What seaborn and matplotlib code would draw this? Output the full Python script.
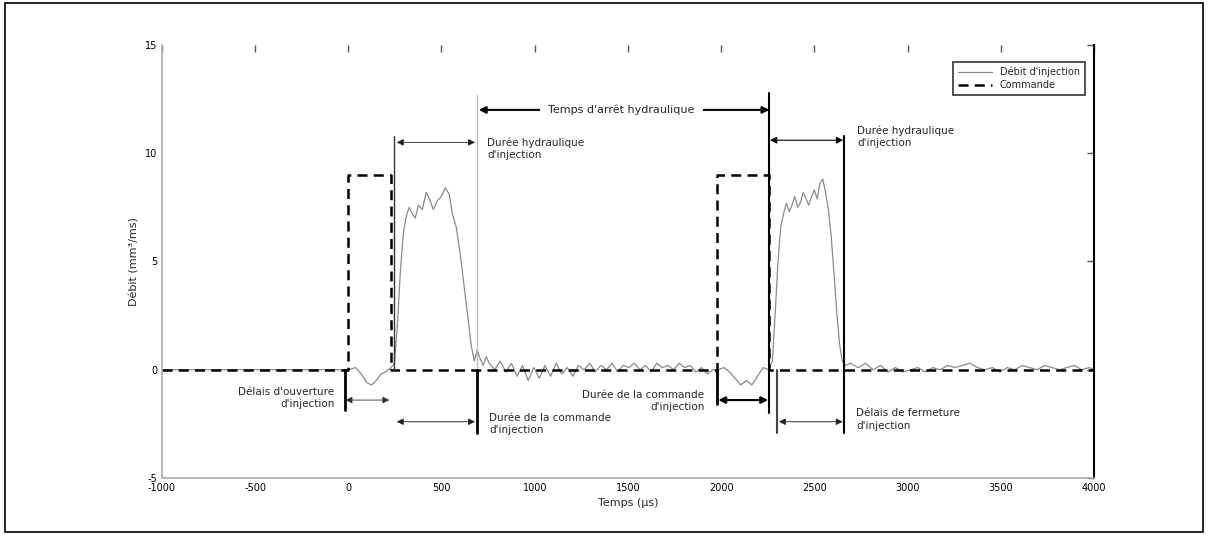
import numpy as np
import pandas as pd
import matplotlib
matplotlib.use('Agg')
import matplotlib.pyplot as plt
from matplotlib.patches import Rectangle
import seaborn as sns

# commande d'injection (dashed)
cmd_t = [-1000, 0, 0, 230, 230, 1980, 1980, 2259, 2259, 4000]
cmd_v = [0, 0, 9, 9, 0, 0, 9, 9, 0, 0]

# debit d'injection, 1st injection
rate_t1 = [-1000, 0, 40, 70, 100, 125, 150, 175, 200, 230, 247, 263, 279, 295, 311, 327, 343, 359, 376, 397,
           418, 435, 456, 477, 499, 520, 542, 558, 579, 601, 622, 644, 660, 676, 692, 708, 724, 740, 756]
rate_v1 = [0, 0, 0.1, -0.2, -0.6, -0.7, -0.5, -0.2, -0.1, 0.1, 0.3, 2.0, 4.5, 6.3, 7.1, 7.5, 7.2, 7.0, 7.6, 7.4,
           8.2, 7.9, 7.4, 7.8, 8.0, 8.4, 8.1, 7.2, 6.6, 5.3, 3.8, 2.2, 1.1, 0.4, 0.9, 0.5, 0.2, 0.6, 0.3]
# between injections
rate_t2 = [785, 815, 845, 875, 905, 935, 965, 995, 1025, 1055, 1085, 1115, 1145, 1175, 1205, 1235, 1265, 1295, 1325, 1355,
           1385, 1415, 1445, 1475, 1505, 1535, 1565, 1595, 1625, 1655, 1685, 1715, 1745, 1775, 1805, 1835, 1865, 1895, 1925, 1955]
rate_v2 = [0.0, 0.4, -0.1, 0.3, -0.3, 0.2, -0.5, 0.1, -0.4, 0.2, -0.3, 0.3, -0.2, 0.1, -0.3, 0.2, 0.0, 0.3, -0.1, 0.2,
           0.0, 0.3, -0.1, 0.2, 0.1, 0.3, 0.0, 0.2, -0.1, 0.3, 0.1, 0.2, 0.0, 0.3, 0.1, 0.2, -0.1, 0.1, -0.2, 0.0]
# 2nd injection
rate_t3 = [1985, 2015, 2045, 2075, 2105, 2135, 2165, 2195, 2225, 2255, 2275, 2290, 2305, 2320, 2335, 2350, 2365, 2380, 2395, 2410,
           2425, 2440, 2455, 2470, 2485, 2500, 2515, 2530, 2545, 2560, 2575, 2590, 2605, 2620, 2635, 2650, 2665]
rate_v3 = [0.0, 0.1, -0.1, -0.4, -0.7, -0.5, -0.7, -0.3, 0.1, 0.0, 0.4, 2.6, 5.0, 6.6, 7.2, 7.7, 7.3, 7.6, 8.0, 7.5,
           7.7, 8.2, 7.9, 7.6, 8.0, 8.3, 7.9, 8.6, 8.8, 8.2, 7.4, 6.2, 4.5, 2.7, 1.2, 0.4, 0.2]
# tail
rate_t4 = [2695, 2735, 2775, 2815, 2855, 2895, 2935, 2975, 3015, 3055, 3095, 3135, 3175, 3215, 3255, 3295, 3335, 3375, 3415, 3455,
           3495, 3535, 3575, 3615, 3655, 3695, 3735, 3775, 3815, 3855, 3895, 3935, 3975, 4000]
rate_v4 = [0.3, 0.1, 0.3, 0.0, 0.2, -0.1, 0.1, -0.1, 0.0, 0.1, -0.1, 0.1, 0.0, 0.2, 0.1, 0.2, 0.3, 0.1, 0.0, 0.1,
           -0.1, 0.1, 0.0, 0.2, 0.1, 0.0, 0.2, 0.1, 0.0, 0.1, 0.2, 0.0, 0.1, 0.0]

x_ticks = [-1000, -500, 0, 500, 1000, 1500, 2000, 2500, 3000, 3500, 4000]
y_ticks = [-5, 0, 5, 10, 15]

rate = pd.DataFrame({'t': rate_t1 + rate_t2 + rate_t3 + rate_t4,
                     'v': rate_v1 + rate_v2 + rate_v3 + rate_v4})
cmd = pd.DataFrame({'t': cmd_t, 'v': cmd_v})

sns.set_style('white')
plt.rcParams['font.family'] = ['DejaVu Sans']
plt.rcParams['axes.unicode_minus'] = False

fig = plt.figure(figsize=(12.08, 5.35), dpi=100)
ax = fig.add_axes([0.134, 0.1065, 0.7716, 0.8095])

sns.lineplot(data=rate, x='t', y='v', estimator=None, sort=False, ax=ax,
             color='#8a8a8a', lw=0.9, label="Débit d'injection")
sns.lineplot(data=cmd, x='t', y='v', estimator=None, sort=False, ax=ax,
             color='black', lw=1.8, label='Commande')
ax.lines[-1].set_dashes((4, 2.5))

ax.set_xlim(-1000, 4000)
ax.set_ylim(-5, 15)
ax.set_xticks(x_ticks)
ax.set_yticks(y_ticks)
ax.tick_params(direction='in', length=5, width=1, labelsize=7, top=True, right=True, colors='#555555')
ax.tick_params(labelcolor='black')
ax.set_xlabel('Temps (µs)', fontsize=8, labelpad=4)
ax.set_ylabel('Débit (mm³/ms)', fontsize=8, labelpad=4)

for s in ['left', 'bottom']:
    ax.spines[s].set_color('#aaaaaa')
    ax.spines[s].set_linewidth(1.2)
ax.spines['top'].set_visible(False)
ax.spines['right'].set_color('black')
ax.spines['right'].set_linewidth(1.5)

# vertical markers
ax.plot([-20, -20], [-1.85, 0], color='black', lw=2)
ax.plot([247, 247], [0, 10.8], color='#333333', lw=1)
ax.plot([690, 690], [0, 12.7], color='#bbbbbb', lw=1)
ax.plot([690, 690], [-2.9, 0], color='black', lw=2)
ax.plot([1980, 1980], [-1.6, 0], color='black', lw=2)
ax.plot([2259, 2259], [-2.0, 12.8], color='black', lw=1.5)
ax.plot([2300, 2300], [-2.9, 0], color='#444444', lw=1.5)
ax.plot([2661, 2661], [-2.9, 10.8], color='black', lw=1.5)

def arrow(x0, x1, y, lw=1, color='black', shaft=None):
    ax.annotate('', xy=(x0, y), xytext=(x1, y),
                arrowprops=dict(arrowstyle='<|-|>', color=color, lw=lw,
                                shrinkA=0, shrinkB=0, mutation_scale=10))
    if shaft is not None:
        ax.plot([x0 + 60, x1 - 60], [y, y], color='white', lw=1.5)
        ax.plot([x0 + 60, x1 - 60], [y, y], color=shaft, lw=0.4)

arrow(700, 2259, 12.0, lw=1.5)
ax.text(1465, 12.0, "Temps d'arrêt hydraulique", fontsize=8, ha='center', va='center',
        bbox=dict(facecolor='white', edgecolor='none', pad=6))
arrow(260, 680, 10.5, lw=0.6, color='#222222')
ax.text(746, 10.2, "Durée hydraulique\nd'injection", fontsize=7.5, ha='left', va='center', linespacing=1.3)
arrow(2262, 2655, 10.6, lw=0.8)
ax.text(2731, 10.75, "Durée hydraulique\nd'injection", fontsize=7.5, ha='left', va='center', linespacing=1.3)

arrow(-15, 220, -1.4, lw=0.6, color='#333333')
ax.text(-75, -1.3, "Délais d'ouverture\nd'injection", fontsize=7.5, ha='right', va='center', linespacing=1.3)
arrow(260, 680, -2.4, lw=0.6, color='#222222', shaft='#dddddd')
ax.text(756, -2.5, "Durée de la commande\nd'injection", fontsize=7.5, ha='left', va='center', linespacing=1.3)
arrow(1985, 2252, -1.4, lw=1.5)
ax.text(1910, -1.45, "Durée de la commande\nd'injection", fontsize=7.5, ha='right', va='center', linespacing=1.3)
arrow(2310, 2652, -2.4, lw=0.6, color='#222222', shaft='#dddddd')
ax.text(2725, -2.3, "Délais de fermeture\nd'injection", fontsize=7.5, ha='left', va='center', linespacing=1.3)

leg = ax.legend(loc='upper right', bbox_to_anchor=(0.9955, 0.972), fontsize=7, frameon=True,
                fancybox=False, handlelength=3.5, borderpad=0.5, labelspacing=0.3)
leg.get_frame().set_edgecolor('black')
leg.get_frame().set_linewidth(1.2)

fig.patches.append(Rectangle((0.004, 0.006), 0.992, 0.988, transform=fig.transFigure,
                             fill=False, edgecolor='black', lw=1.2))

fig.savefig('out.png', dpi=100)
